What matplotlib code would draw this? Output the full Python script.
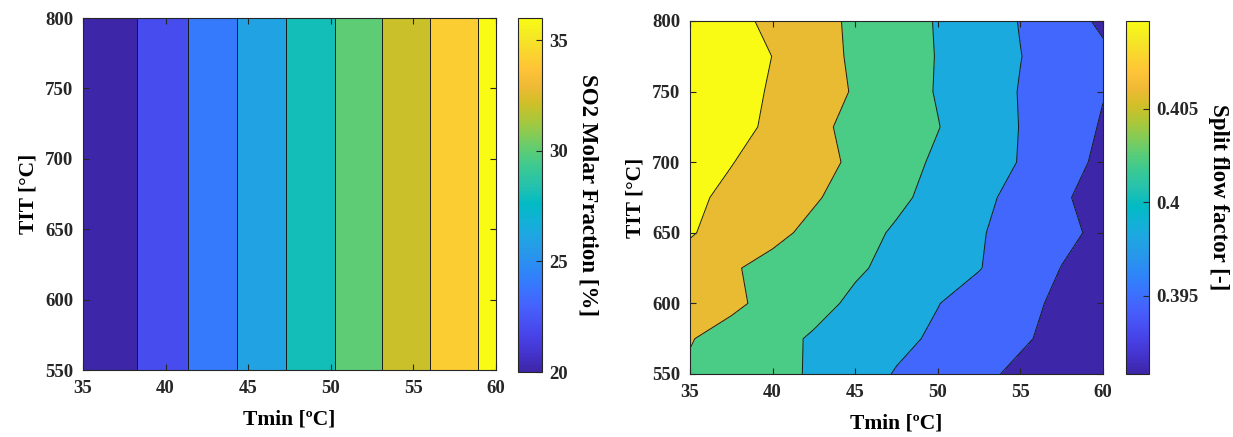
import numpy as np
import matplotlib
matplotlib.use('Agg')
import matplotlib.pyplot as plt
from matplotlib.colors import LinearSegmentedColormap, Normalize
from matplotlib.cm import ScalarMappable

plt.rcParams['font.family'] = ['Liberation Serif', 'DejaVu Serif']
plt.rcParams['axes.edgecolor'] = '#262626'
plt.rcParams['xtick.color'] = '#262626'
plt.rcParams['ytick.color'] = '#262626'

# parula (MATLAB default colormap), every third entry of the 64-colour table
parula_rgb = [
    [0.2422, 0.1504, 0.6603], [0.2647, 0.1978, 0.7952], [0.2783, 0.2559, 0.8991],
    [0.2810, 0.3228, 0.9579], [0.2699, 0.3892, 0.9906], [0.2206, 0.4603, 0.9973],
    [0.1786, 0.5289, 0.9682], [0.1540, 0.5902, 0.9218], [0.1248, 0.6459, 0.8883],
    [0.0689, 0.6948, 0.8394], [0.0067, 0.7312, 0.7660], [0.1408, 0.7584, 0.6842],
    [0.2161, 0.7843, 0.5923], [0.3406, 0.8008, 0.4789], [0.5044, 0.7993, 0.3480],
    [0.6720, 0.7793, 0.2227], [0.8203, 0.7498, 0.1535], [0.9393, 0.7288, 0.2100],
    [0.9970, 0.7659, 0.2199], [0.9786, 0.8386, 0.1766], [0.9597, 0.9135, 0.1423],
    [0.9769, 0.9839, 0.0805],
]
parula = LinearSegmentedColormap.from_list('parula', parula_rgb, N=256)

# grid
tmin = [35, 37.5, 40, 42.5, 45, 47.5, 50, 52.5, 55, 57.5, 60]
tit = [550, 575, 600, 625, 650, 675, 700, 725, 750, 775, 800]

# SO2 molar fraction [%] - depends only on Tmin
so2 = [19.8, 21.5, 23.1, 24.75, 26.45, 28.13, 29.8, 31.57, 33.31, 35.03, 36.76]
so2_levels = [20, 22, 24, 26, 28, 30, 32, 34, 36]

# split flow factor [-], rows = TIT (550 -> 800), columns = Tmin (35 -> 60)
split_flow = [
    [0.40548, 0.40429, 0.40309, 0.40177, 0.39992, 0.39813, 0.39672, 0.39531, 0.39390, 0.39249, 0.39108],
    [0.40609, 0.40464, 0.40319, 0.40177, 0.40047, 0.39916, 0.39782, 0.39641, 0.39501, 0.39360, 0.39220],
    [0.40832, 0.40661, 0.40489, 0.40317, 0.40152, 0.39999, 0.39845, 0.39695, 0.39545, 0.39395, 0.39245],
    [0.40834, 0.40625, 0.40493, 0.40375, 0.40257, 0.40126, 0.39988, 0.39850, 0.39653, 0.39450, 0.39246],
    [0.40996, 0.40835, 0.40675, 0.40510, 0.40338, 0.40171, 0.40018, 0.39864, 0.39703, 0.39541, 0.39378],
    [0.41036, 0.40899, 0.40762, 0.40625, 0.40459, 0.40284, 0.40105, 0.39923, 0.39725, 0.39509, 0.39295],
    [0.41125, 0.40981, 0.40839, 0.40695, 0.40538, 0.40345, 0.40160, 0.39992, 0.39820, 0.39599, 0.39379],
    [0.41330, 0.41111, 0.40891, 0.40671, 0.40503, 0.40364, 0.40225, 0.40028, 0.39827, 0.39628, 0.39429],
    [0.41303, 0.41118, 0.40933, 0.40748, 0.40563, 0.40377, 0.40192, 0.40006, 0.39821, 0.39646, 0.39472],
    [0.41412, 0.41188, 0.40965, 0.40741, 0.40536, 0.40369, 0.40200, 0.40021, 0.39842, 0.39682, 0.39522],
    [0.41256, 0.41074, 0.40892, 0.40710, 0.40533, 0.40363, 0.40192, 0.40008, 0.39822, 0.39610, 0.39398],
]
flow_levels = [0.3908, 0.39458, 0.39836, 0.40214, 0.40592, 0.4097]
flow_ticks = [0.395, 0.4, 0.405]
flow_ticklabels = ['0.395', '0.4', '0.405']


def filled_contour(ax, cax, z, levels, cbar_label, cbar_ticks, cbar_ticklabels):
    X, Y = np.meshgrid(tmin, tit)
    z = np.asarray(z, dtype=float)
    norm = Normalize(levels[0], levels[-1], clip=True)
    # each band takes the colour of its lower level, like MATLAB's contourf
    edges = [min(z.min(), levels[0])] + list(levels[1:]) + [max(z.max(), levels[-1]) + 1e-9]
    colors = [parula(norm(v)) for v in edges[:-1]]
    ax.contourf(X, Y, z, levels=edges, colors=colors)
    ax.contour(X, Y, z, levels=levels[1:], colors='#1a1a1a', linewidths=0.7)

    ax.set_xlim(35, 60)
    ax.set_ylim(550, 800)
    ax.set_xticks([35, 40, 45, 50, 55, 60])
    ax.set_yticks([550, 600, 650, 700, 750, 800])
    ax.tick_params(direction='in', top=True, right=True, length=4, labelsize=13.5, pad=7)
    for lab in ax.get_xticklabels() + ax.get_yticklabels():
        lab.set_fontweight('bold')
    ax.set_xlabel('Tmin [ºC]', fontsize=15.5, fontweight='bold', labelpad=9)
    ax.set_ylabel('TIT [°C]', fontsize=15.5, fontweight='bold', labelpad=5)

    cb = plt.colorbar(ScalarMappable(norm=norm, cmap=parula), cax=cax)
    cb.set_ticks(cbar_ticks)
    cb.set_ticklabels(cbar_ticklabels)
    cb.ax.tick_params(direction='in', length=4, labelsize=13.5, pad=5)
    for lab in cb.ax.get_yticklabels():
        lab.set_fontweight('bold')
    cb.outline.set_edgecolor('#262626')
    cb.set_label(cbar_label, rotation=270, fontsize=16.5, fontweight='bold', labelpad=22)


fig = plt.figure(figsize=(12.33, 4.37), dpi=100)
ax1 = fig.add_axes([0.0673, 0.1533, 0.3350, 0.8055])
cax1 = fig.add_axes([0.4201, 0.1487, 0.0195, 0.8100])
ax2 = fig.add_axes([0.5596, 0.1442, 0.3350, 0.8078])
cax2 = fig.add_axes([0.9132, 0.1442, 0.0187, 0.8078])

so2_field = np.tile(so2, (len(tit), 1))
filled_contour(ax1, cax1, so2_field, so2_levels, 'SO2 Molar Fraction [%]',
               [20, 25, 30, 35], ['20', '25', '30', '35'])
filled_contour(ax2, cax2, split_flow, flow_levels, 'Split flow factor [-]',
               flow_ticks, flow_ticklabels)

fig.savefig('out.png', dpi=100)
